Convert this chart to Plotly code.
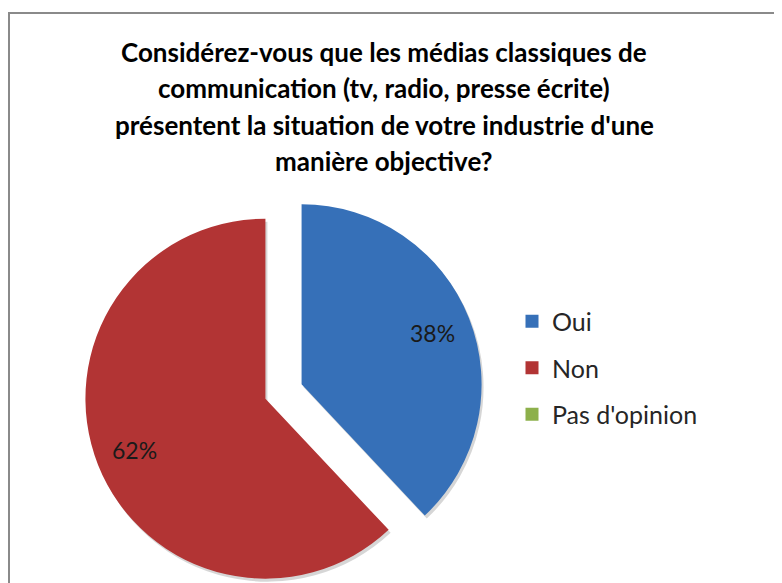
import math
import plotly.graph_objects as go

labels = ["Oui", "Non", "Pas d'opinion"]
values = [38, 62, 0]
colors = ["#3670b8", "#b23434", "#8db04b"]

title_lines = [
    "Considérez-vous que les médias classiques de",
    "communication (tv, radio, presse écrite)",
    "présentent la situation de votre industrie d'une",
    "manière objective?",
]

# figure geometry (pixels)
W, H = 774, 600
CX, CY, R, PULL = 275.5, 383.5, 180.0, 0.108
box = 2 * R * (1 + PULL)
dom_x = [(CX - box / 2) / W, (CX + box / 2) / W]
dom_y = [1 - (CY + box / 2) / H, 1 - (CY - box / 2) / H]
SH_DX, SH_DY = 2, 3

fig = go.Figure()

# soft shadow under the pie
fig.add_trace(go.Pie(
    labels=labels, values=values, sort=False, direction="clockwise",
    rotation=0, pull=[PULL if v > 0 else 0 for v in values],
    marker=dict(colors=["rgba(0,0,0,0.16)"] * len(values), line=dict(width=0)),
    textinfo="none", hoverinfo="skip", showlegend=False,
    domain=dict(x=[dom_x[0] + SH_DX / W, dom_x[1] + SH_DX / W],
                y=[dom_y[0] - SH_DY / H, dom_y[1] - SH_DY / H]),
))

fig.add_trace(go.Pie(
    labels=labels, values=values, sort=False, direction="clockwise",
    rotation=0, pull=[PULL if v > 0 else 0 for v in values],
    marker=dict(colors=colors, line=dict(width=0)),
    textinfo="none", showlegend=False,
    domain=dict(x=dom_x, y=dom_y),
))

# legend entries
for lab, col in zip(labels, colors):
    fig.add_trace(go.Scatter(
        x=[None], y=[None], mode="markers", name=lab, legendgroup=lab,
        marker=dict(symbol="square", size=13, color=col),
    ))

# percentage labels placed inside each slice
total = sum(values)
cum = 0.0
annotations = []
for v in values:
    if v > 0:
        mid = math.radians((cum + v / 2) / total * 360)
        dx, dy = math.sin(mid), math.cos(mid)
        px = CX + (PULL * R + 0.78 * R) * dx
        py = (H - CY) + (PULL * R + 0.78 * R) * dy
        annotations.append(dict(
            x=px / W, y=py / H, xref="paper", yref="paper",
            xanchor="center", yanchor="middle",
            text=f"{round(v / total * 100)}%", showarrow=False,
            font=dict(family="Lato", size=23, color="#1a1a1a"),
        ))
    cum += v

line_y = [44, 80, 117, 153]
for t, y in zip(title_lines, line_y):
    annotations.append(dict(
        x=376 / W, y=1 - y / H, xref="paper", yref="paper",
        xanchor="center", yanchor="middle", text=t, showarrow=False,
        font=dict(family="Lato", size=26, color="#000000", weight="bold"),
    ))

fig.update_layout(
    width=W, height=H,
    margin=dict(l=0, r=0, t=0, b=0),
    paper_bgcolor="white", plot_bgcolor="white",
    xaxis=dict(visible=False), yaxis=dict(visible=False),
    annotations=annotations,
    legend=dict(x=504 / W, y=1 - 360 / H, xanchor="left", yanchor="middle",
                font=dict(family="Lato", size=25, color="#262626"),
                tracegroupgap=11, bgcolor="rgba(0,0,0,0)"),
    shapes=[dict(type="rect", xref="paper", yref="paper",
                 x0=1 / W, x1=1.05, y0=-0.05, y1=1 - 5 / H,
                 line=dict(color="#8a8a8a", width=2))],
)

fig.write_html("out.html")
